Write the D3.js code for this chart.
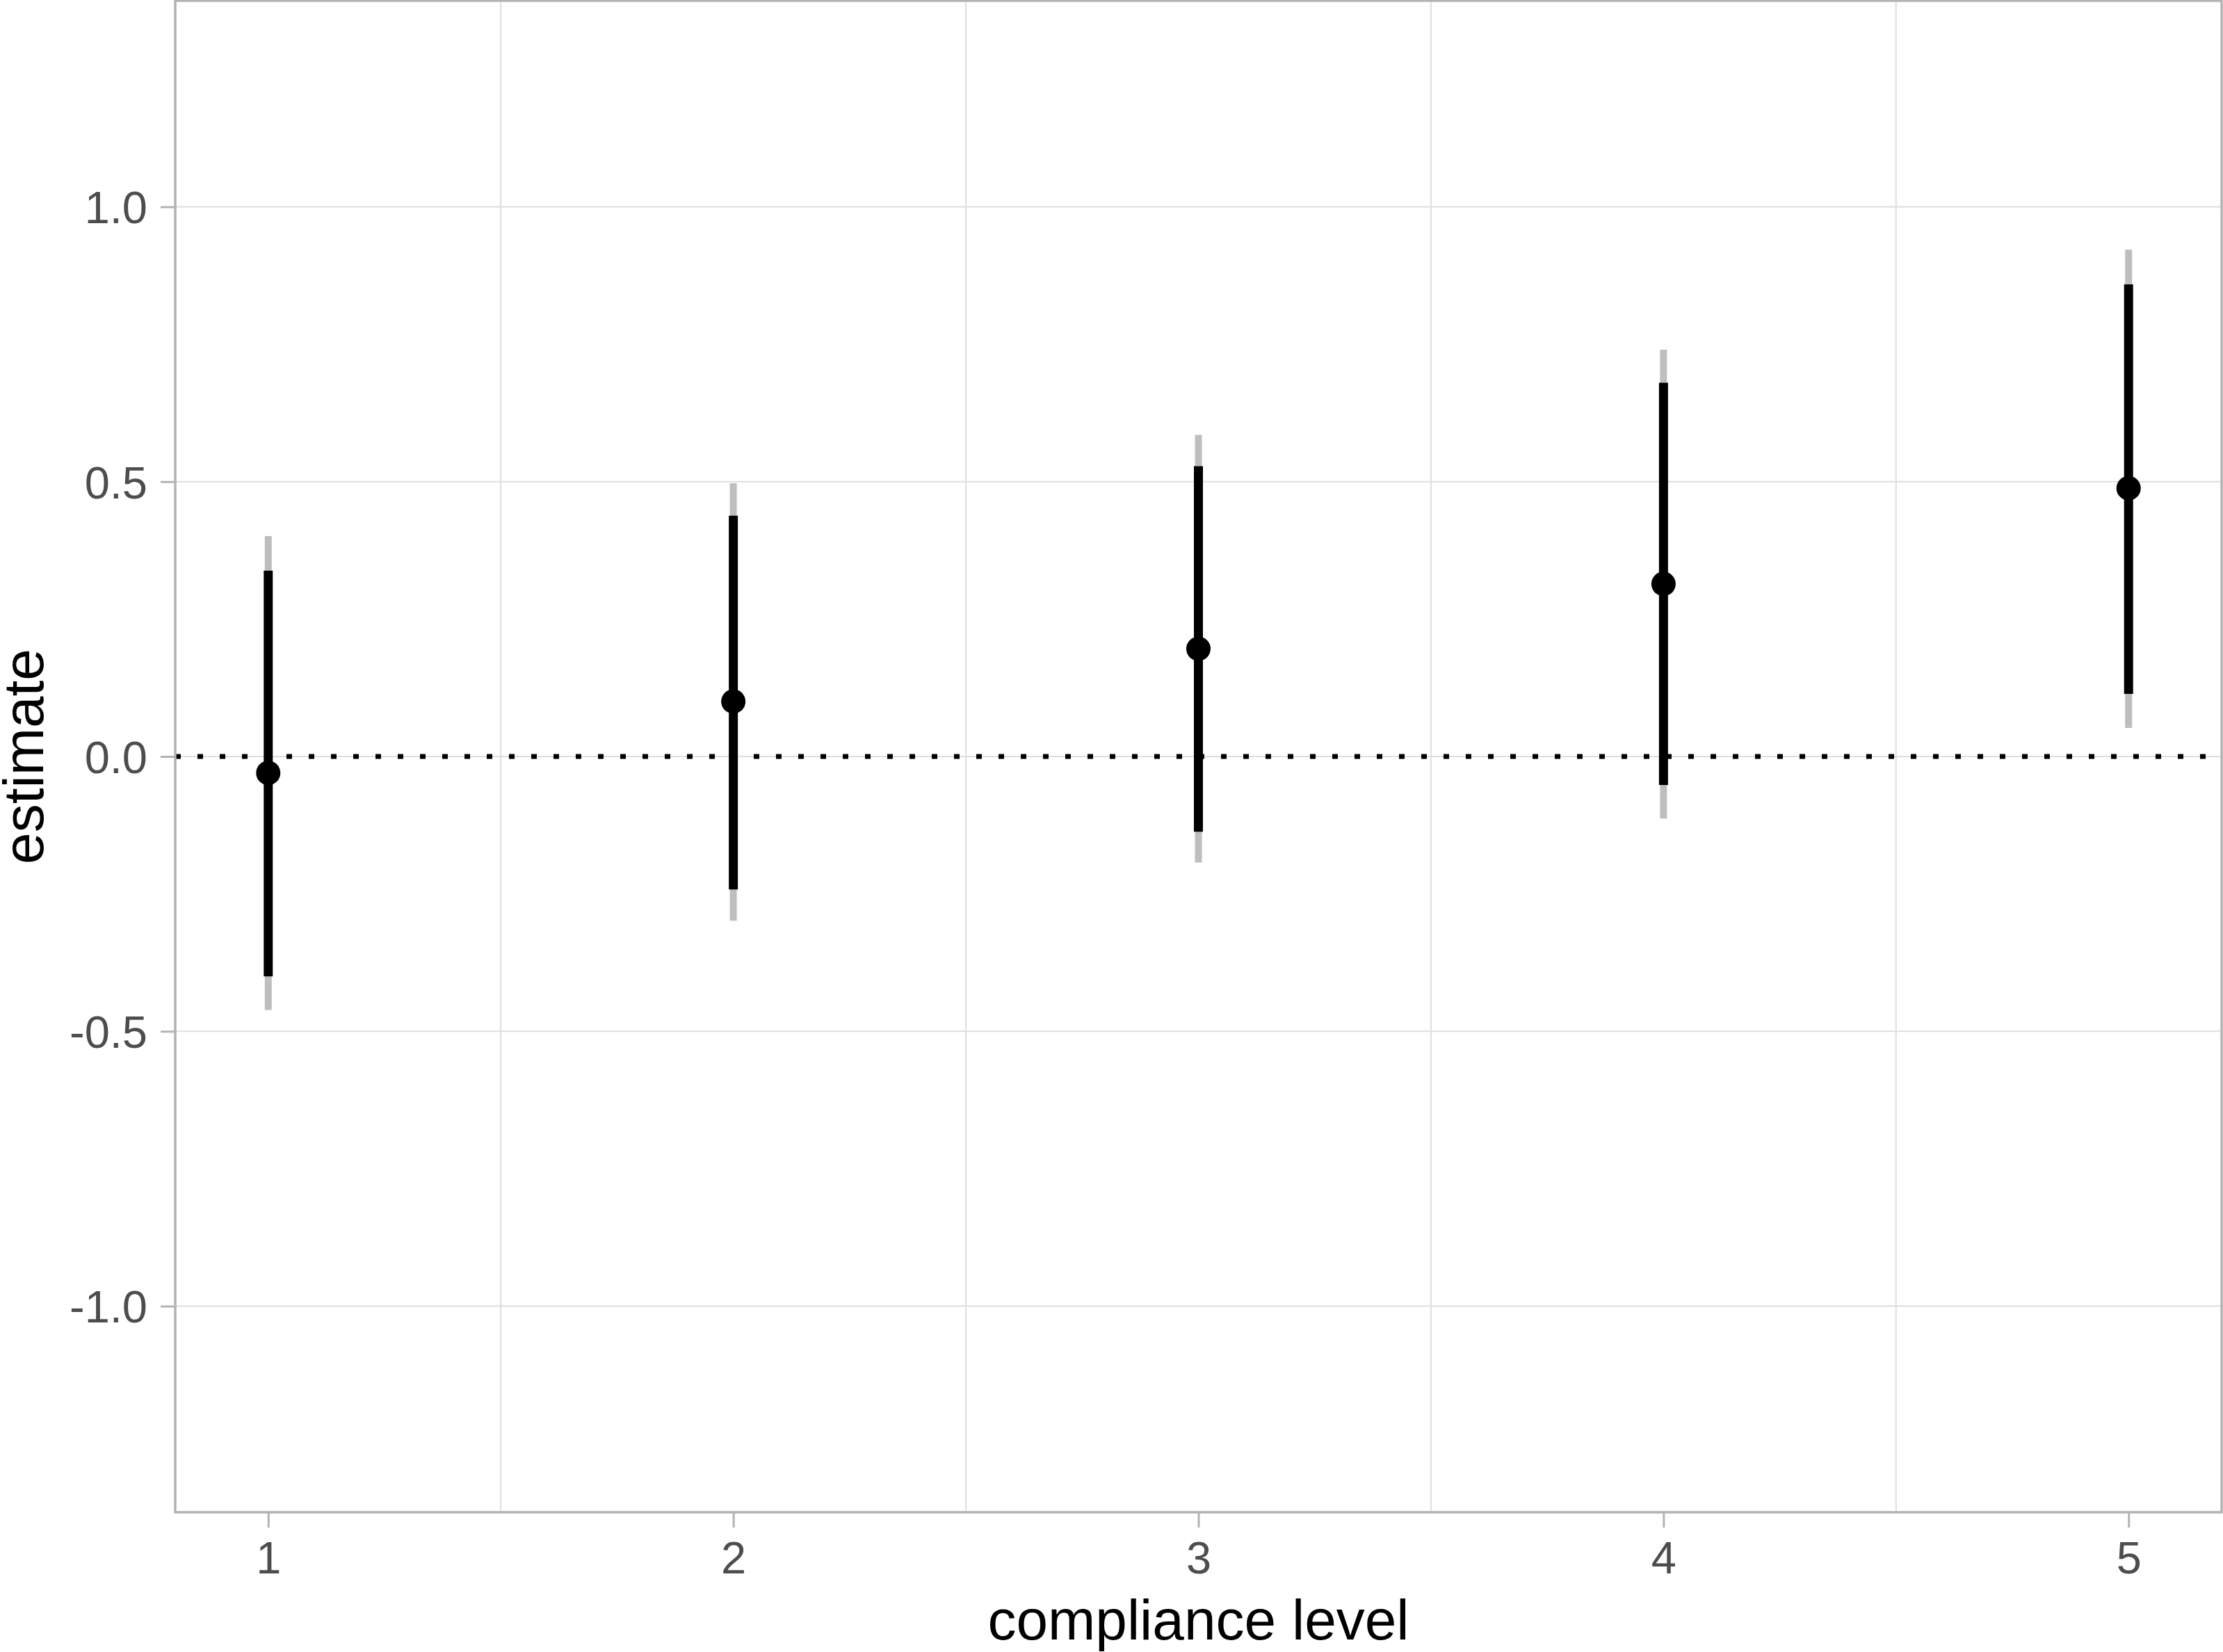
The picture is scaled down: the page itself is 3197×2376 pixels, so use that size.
<!DOCTYPE html>
<html>
<head>
<meta charset="utf-8">
<script src="https://cdn.jsdelivr.net/npm/d3@7"></script>
<style>
  body { margin: 0; background: #fff; }
  text { font-family: "Liberation Sans", Arial, Helvetica, sans-serif; }
</style>
</head>
<body>
<div id="chart"></div>
<script>
// compliance levels and the estimates
let levels = [1, 2, 3, 4, 5];
let estimates = [-0.030, 0.100, 0.196, 0.314, 0.488];
let innerLow = [-0.400, -0.242, -0.137, -0.052, 0.114];
let innerHigh = [0.338, 0.438, 0.528, 0.680, 0.859];
let outerLow = [-0.461, -0.299, -0.193, -0.113, 0.052];
let outerHigh = [0.401, 0.497, 0.585, 0.740, 0.922];
let yTicks = [-1.0, -0.5, 0.0, 0.5, 1.0];
let xGrid = [1.5, 2.5, 3.5, 4.5];

let W = 3197, H = 2376;
let margin = {top: 1, right: 2, bottom: 201, left: 252},
    width = W - margin.left - margin.right,
    height = H - margin.top - margin.bottom;

let data = levels.map(function (d, i) {
    return {level: d, est: estimates[i], lo: innerLow[i], hi: innerHigh[i],
            lo2: outerLow[i], hi2: outerHigh[i]};
});

let svg = d3.select("#chart").append("svg")
    .attr("width", W)
    .attr("height", H);

svg.append("rect").attr("width", W).attr("height", H).attr("fill", "#fff");

let g = svg.append("g")
    .attr("transform", "translate(" + margin.left + "," + margin.top + ")");

let x = d3.scaleLinear().domain([0.8, 5.2]).range([0, width]);
let y = d3.scaleLinear().domain([-1.375, 1.375]).range([height, 0]);

// grid
g.selectAll(".hgrid")
    .data(yTicks)
    .enter().append("line")
    .attr("class", "hgrid")
    .attr("x1", 0).attr("x2", width)
    .attr("y1", d => y(d)).attr("y2", d => y(d))
    .attr("stroke", "#dedede")
    .attr("stroke-width", 2);

g.selectAll(".vgrid")
    .data(xGrid)
    .enter().append("line")
    .attr("class", "vgrid")
    .attr("y1", 0).attr("y2", height)
    .attr("x1", d => x(d)).attr("x2", d => x(d))
    .attr("stroke", "#dedede")
    .attr("stroke-width", 2);

// reference line at zero
g.append("line")
    .attr("x1", 0).attr("x2", width)
    .attr("y1", y(0)).attr("y2", y(0))
    .attr("stroke", "#000")
    .attr("stroke-width", 7)
    .attr("stroke-dasharray", "8,24");

// outer interval (grey)
g.selectAll(".outer")
    .data(data)
    .enter().append("line")
    .attr("class", "outer")
    .attr("x1", d => x(d.level)).attr("x2", d => x(d.level))
    .attr("y1", d => y(d.lo2)).attr("y2", d => y(d.hi2))
    .attr("stroke", "#bebebe")
    .attr("stroke-width", 10);

// inner interval (black)
g.selectAll(".inner")
    .data(data)
    .enter().append("line")
    .attr("class", "inner")
    .attr("x1", d => x(d.level)).attr("x2", d => x(d.level))
    .attr("y1", d => y(d.lo)).attr("y2", d => y(d.hi))
    .attr("stroke", "#000")
    .attr("stroke-width", 13);

g.selectAll(".dot")
    .data(data)
    .enter().append("circle")
    .attr("class", "dot")
    .attr("cx", d => x(d.level))
    .attr("cy", d => y(d.est))
    .attr("r", 17.5)
    .attr("fill", "#000");

// axes
let yAxis = d3.axisLeft(y)
    .tickValues(yTicks)
    .tickFormat(d => d.toFixed(1))
    .tickSizeInner(21).tickSizeOuter(0)
    .tickPadding(19);

let xAxis = d3.axisBottom(x)
    .tickValues(levels)
    .tickFormat(d3.format("d"))
    .tickSizeInner(22).tickSizeOuter(0)
    .tickPadding(20);

let ya = g.append("g").attr("class", "y axis").call(yAxis);
let xa = g.append("g").attr("class", "x axis")
    .attr("transform", "translate(0," + height + ")")
    .call(xAxis);

[ya, xa].forEach(function (a) {
    a.select(".domain").remove();
    a.selectAll(".tick line").attr("stroke", "#b3b3b3").attr("stroke-width", 3);
    a.selectAll(".tick text")
        .attr("fill", "#4d4d4d")
        .style("font-size", "65px");
});
ya.selectAll(".tick text").attr("dy", "0.36em");

// panel border on top
g.append("rect")
    .attr("x", 0).attr("y", 0)
    .attr("width", width).attr("height", height)
    .attr("fill", "none")
    .attr("stroke", "#b3b3b3")
    .attr("stroke-width", 3.5);

// axis titles
svg.append("text")
    .attr("x", margin.left + width / 2)
    .attr("y", 2358)
    .attr("text-anchor", "middle")
    .style("font-size", "82px")
    .attr("fill", "#000")
    .text("compliance level");

svg.append("text")
    .attr("transform", "translate(62," + (margin.top + height / 2) + ") rotate(-90)")
    .attr("text-anchor", "middle")
    .style("font-size", "82px")
    .attr("fill", "#000")
    .text("estimate");
</script>
</body>
</html>
